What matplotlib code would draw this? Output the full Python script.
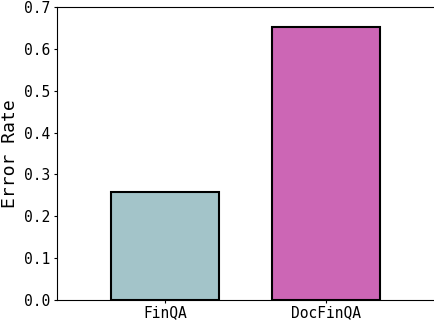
import matplotlib
matplotlib.use("Agg")
import matplotlib.pyplot as plt

# data
datasets = ["FinQA", "DocFinQA"]
error_rates = [0.258, 0.653]
bar_colors = ["#a3c4c9", "#cc66b5"]
y_ticks = [0.0, 0.1, 0.2, 0.3, 0.4, 0.5, 0.6, 0.7]
y_tick_labels = ["0.0", "0.1", "0.2", "0.3", "0.4", "0.5", "0.6", "0.7"]

plt.rcParams['font.family'] = 'DejaVu Sans Mono'

fig = plt.figure(figsize=(4.34, 3.2), dpi=100)
ax = fig.add_axes([0.131, 0.0625, 0.869, 0.9155])

ax.bar(range(len(datasets)), error_rates, width=0.67, color=bar_colors,
       edgecolor="black", linewidth=1.5)

ax.set_xticks(range(len(datasets)))
ax.set_xticklabels(datasets, fontsize=10.5)
ax.set_xlim(-0.67, 1.67)
ax.set_ylim(0, 0.7)
ax.set_yticks(y_ticks)
ax.set_yticklabels(y_tick_labels, fontsize=10.5)
ax.tick_params(axis='both', length=2, pad=3)
ax.tick_params(axis='x', pad=1.5)
ax.set_ylabel("Error Rate", fontsize=13, labelpad=3)
ax.spines['right'].set_visible(False)

fig.savefig("out.png", dpi=100)
